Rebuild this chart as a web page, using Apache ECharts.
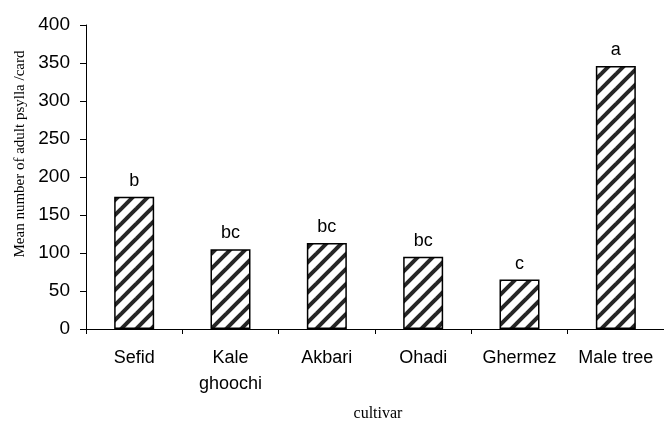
<!DOCTYPE html>
<html>
<head>
<meta charset="utf-8">
<script src="https://cdn.jsdelivr.net/npm/echarts@6/dist/echarts.min.js"></script>
<style>
  html, body { margin: 0; padding: 0; background: #fff; }
  #chart { width: 664px; height: 421px; }
</style>
</head>
<body>
<div id="chart"></div>
<script>
// data
var cultivars = ["Sefid", "Kale\nghoochi", "Akbari", "Ohadi", "Ghermez", "Male tree"];
var meanAdults = [174, 105, 113, 95, 65, 346];
var letters = ["b", "bc", "bc", "bc", "c", "a"];

// hatch tile: diagonal "/" stripes, lines run past the tile edge so it tiles cleanly
function hatch() {
  var size = 15;
  var c = document.createElement("canvas");
  c.width = size;
  c.height = size;
  var ctx = c.getContext("2d");
  ctx.fillStyle = "#fff";
  ctx.fillRect(0, 0, size, size);
  ctx.strokeStyle = "#262626";
  ctx.lineWidth = 4;
  [-size, 0, size].forEach(function (o) {
    ctx.beginPath();
    ctx.moveTo(o - 5, size + 5);
    ctx.lineTo(o + size + 5, -5);
    ctx.stroke();
  });
  return c;
}

var myChart = echarts.init(document.getElementById("chart"));
myChart.setOption({
  animation: false,
  grid: { left: 86, right: -7, top: 25, bottom: 92 },
  xAxis: {
    type: "category",
    data: cultivars,
    axisLine: { lineStyle: { color: "#000", width: 1 } },
    axisTick: { show: true, length: 5, lineStyle: { color: "#000" } },
    axisLabel: {
      color: "#000",
      fontFamily: "Liberation Sans, Arial",
      fontSize: 18,
      lineHeight: 26,
      margin: 16,
      interval: 0
    }
  },
  yAxis: {
    type: "value",
    min: 0,
    max: 400,
    interval: 50,
    splitLine: { show: false },
    axisLine: { show: true, lineStyle: { color: "#000", width: 1 } },
    axisTick: { show: true, length: 6, lineStyle: { color: "#000" } },
    axisLabel: {
      color: "#000",
      fontFamily: "Liberation Sans, Arial",
      fontSize: 19,
      margin: 16
    }
  },
  graphic: [
    {
      type: "text",
      x: 20,
      y: 154,
      rotation: Math.PI / 2,
      style: {
        text: "Mean number of adult psylla /card",
        fontFamily: "Liberation Serif, Times New Roman",
        fontSize: 15,
        fill: "#000",
        align: "center",
        verticalAlign: "middle"
      }
    },
    {
      type: "text",
      x: 378,
      y: 414,
      style: {
        text: "cultivar",
        fontFamily: "Liberation Serif, Times New Roman",
        fontSize: 16,
        fill: "#000",
        align: "center",
        verticalAlign: "middle"
      }
    }
  ],
  series: [
    {
      type: "bar",
      data: meanAdults,
      barWidth: 40,
      itemStyle: {
        color: { image: hatch(), repeat: "repeat" },
        borderColor: "#000",
        borderWidth: 1.5
      },
      label: {
        show: true,
        position: "top",
        distance: 7,
        color: "#000",
        fontFamily: "Liberation Sans, Arial",
        fontSize: 18,
        formatter: function (p) {
          return letters[p.dataIndex];
        }
      }
    }
  ]
});
</script>
</body>
</html>
